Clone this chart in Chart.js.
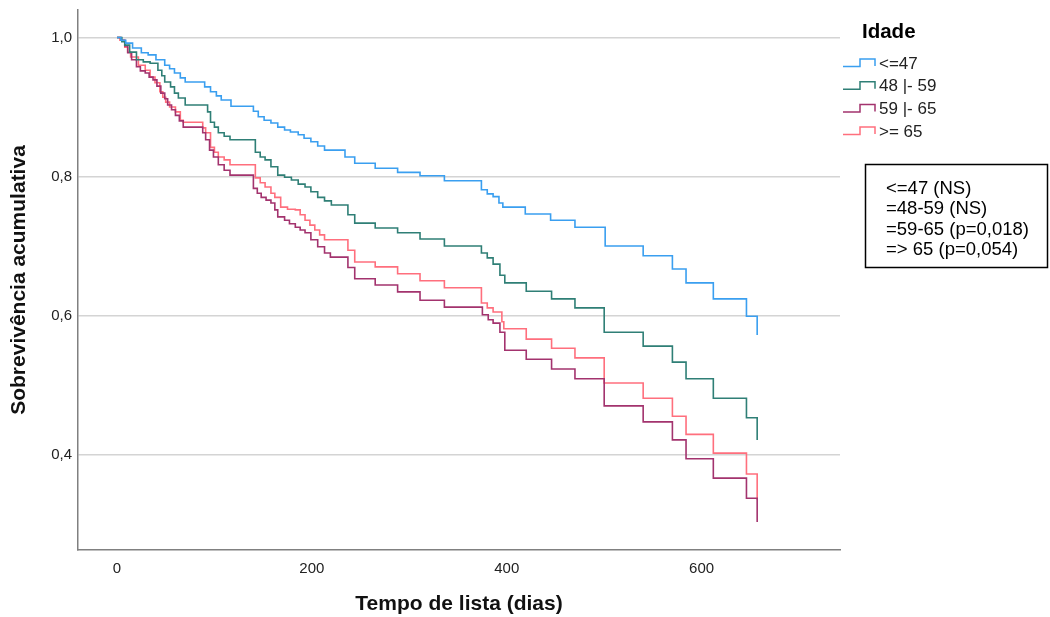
<!DOCTYPE html>
<html>
<head>
<meta charset="utf-8">
<script src="https://cdn.jsdelivr.net/npm/chart.js@4.4.0/dist/chart.umd.min.js"></script>
<style>
  html, body { margin: 0; padding: 0; background: #fff; }
  #wrap { width: 1050px; height: 617px; }
</style>
</head>
<body>
<div id="wrap"><canvas id="km" width="1050" height="617"></canvas></div>
<script>
// age groups (Idade)
var groupNames = ['<=47', '48 |- 59', '59 |- 65', '>= 65'];
var groupColors = ['#3a9ff0', '#2f7f76', '#a3336e', '#ff6f7d'];

// Kaplan-Meier steps: day of drop and survival after the drop
var days47 = [0,4,9,16,25,32,40,49,54,59,65,70,90,96,102,107,117,140,145,151,158,165,172,178,186,192,199,206,213,234,244,265,288,311,336,374,380,386,392,396,419,445,470,501,540,570,584,612,646,657];
var surv47 = [1,0.996,0.992,0.985,0.978,0.975,0.968,0.960,0.955,0.949,0.942,0.936,0.929,0.922,0.916,0.910,0.901,0.894,0.886,0.881,0.877,0.871,0.867,0.864,0.860,0.855,0.850,0.844,0.838,0.828,0.819,0.812,0.806,0.801,0.794,0.781,0.775,0.771,0.762,0.756,0.746,0.737,0.727,0.700,0.686,0.667,0.647,0.624,0.599,0.572];

var days48 = [0,5,8,13,20,27,34,42,46,49,55,59,63,70,93,96,100,104,110,116,142,147,152,158,165,172,179,186,193,199,206,213,220,237,244,265,288,311,336,374,380,386,393,398,420,446,470,500,540,570,584,612,646,657];
var surv48 = [1,0.994,0.989,0.979,0.968,0.965,0.963,0.953,0.945,0.936,0.929,0.920,0.913,0.903,0.893,0.878,0.871,0.863,0.858,0.853,0.835,0.828,0.824,0.814,0.802,0.799,0.795,0.789,0.785,0.778,0.770,0.765,0.759,0.745,0.733,0.726,0.719,0.710,0.700,0.690,0.683,0.674,0.658,0.647,0.635,0.624,0.611,0.576,0.556,0.533,0.509,0.481,0.453,0.421];

var days59 = [0,4,8,11,15,20,24,29,33,37,41,45,49,52,56,60,64,68,88,91,95,99,104,110,116,140,144,148,153,158,162,165,172,177,183,188,193,199,206,213,219,237,244,265,288,311,336,375,381,386,393,398,420,446,470,500,540,570,584,612,646,657];
var surv59 = [1,0.996,0.988,0.978,0.968,0.958,0.952,0.949,0.943,0.939,0.930,0.920,0.912,0.903,0.896,0.888,0.880,0.871,0.863,0.853,0.838,0.828,0.817,0.809,0.802,0.783,0.776,0.770,0.766,0.762,0.752,0.742,0.737,0.732,0.727,0.723,0.719,0.709,0.699,0.690,0.684,0.669,0.653,0.644,0.634,0.622,0.612,0.601,0.594,0.589,0.576,0.550,0.537,0.523,0.509,0.470,0.447,0.421,0.394,0.366,0.337,0.303];

var days65 = [0,3,8,11,14,22,29,34,39,44,47,50,54,60,65,68,88,91,96,100,104,110,116,142,147,152,158,162,168,175,183,188,193,198,203,208,213,237,244,265,288,311,336,374,380,386,395,397,420,446,470,500,540,570,584,612,646,657];
var surv65 = [1,0.996,0.986,0.979,0.972,0.960,0.953,0.943,0.935,0.922,0.914,0.907,0.900,0.893,0.881,0.878,0.870,0.863,0.842,0.835,0.828,0.824,0.817,0.798,0.791,0.785,0.776,0.770,0.756,0.753,0.752,0.745,0.737,0.730,0.723,0.716,0.709,0.694,0.677,0.670,0.660,0.650,0.640,0.618,0.611,0.605,0.591,0.581,0.566,0.553,0.539,0.503,0.481,0.455,0.429,0.402,0.372,0.335];

var xTicks = [0, 200, 400, 600];
var yTicks = [0.4, 0.6, 0.8, 1.0];
var statNotes = ['<=47 (NS)', '=48-59 (NS)', '=59-65 (p=0,018)', '=> 65 (p=0,054)'];

var allDays = [days47, days48, days59, days65];
var allSurv = [surv47, surv48, surv59, surv65];

function toPoints(days, surv) {
    return days.map(function (d, i) { return { x: d, y: surv[i] }; });
}

var datasets = groupNames.map(function (name, i) {
    return {
        label: name,
        data: toPoints(allDays[i], allSurv[i]),
        borderColor: groupColors[i],
        borderWidth: 1.6,
        pointRadius: 0,
        stepped: 'before',
        fill: false
    };
});

var font = '"Liberation Sans", Arial, sans-serif';

var kmLegend = {
    id: 'kmLegend',
    afterDraw: function (chart) {
        var ctx = chart.ctx;
        ctx.save();
        ctx.textBaseline = 'middle';
        ctx.fillStyle = '#000';
        ctx.font = 'bold 20.5px ' + font;
        ctx.fillText('Idade', 862, 32);
        ctx.font = '17px ' + font;
        groupNames.forEach(function (name, i) {
            var y = 64 + i * 22.7;
            ctx.strokeStyle = groupColors[i];
            ctx.lineWidth = 1.5;
            ctx.beginPath();
            ctx.moveTo(843, y + 2.5);
            ctx.lineTo(860, y + 2.5);
            ctx.lineTo(860, y - 5);
            ctx.lineTo(875, y - 5);
            ctx.lineTo(875, y + 2);
            ctx.stroke();
            ctx.fillStyle = '#222';
            ctx.fillText(name, 879, y);
        });
        // note box with the tests
        ctx.strokeStyle = '#000';
        ctx.lineWidth = 1.5;
        ctx.strokeRect(865.5, 164.5, 182, 103);
        ctx.fillStyle = '#000';
        ctx.font = '18.5px ' + font;
        statNotes.forEach(function (t, i) {
            ctx.fillText(t, 886, 189 + i * 20.4);
        });
        ctx.restore();
    }
};

var ctx = document.getElementById('km').getContext('2d');
var kmChart = new Chart(ctx, {
    type: 'line',
    data: { datasets: datasets },
    plugins: [kmLegend],
    options: {
        responsive: false,
        animation: false,
        devicePixelRatio: 1,
        layout: { padding: { top: 10, right: 210, left: 0, bottom: 0 } },
        plugins: { legend: { display: false }, tooltip: { enabled: false } },
        scales: {
            x: {
                type: 'linear',
                min: -40,
                max: 742,
                afterBuildTicks: function (s) { s.ticks = xTicks.map(function (v) { return { value: v }; }); },
                afterFit: function (s) { s.height = 67; s.paddingLeft = 0; s.paddingRight = 0; },
                grid: { color: 'rgba(0,0,0,0)', drawTicks: false },
                border: { color: '#808080', width: 1.5 },
                ticks: {
                    padding: 10,
                    color: '#222',
                    font: { family: '"Liberation Sans", Arial', size: 15 },
                    maxRotation: 0
                },
                title: {
                    display: true,
                    text: 'Tempo de lista (dias)',
                    color: '#111',
                    font: { family: '"Liberation Sans", Arial', size: 21, weight: 'bold' },
                    padding: { top: 0, bottom: 0 }
                }
            },
            y: {
                min: 0.2626,
                max: 1.0396,
                afterBuildTicks: function (s) { s.ticks = yTicks.map(function (v) { return { value: v }; }); },
                afterFit: function (s) { s.width = 78; s.paddingTop = 0; s.paddingBottom = 0; },
                grid: { color: '#d4d4d4', lineWidth: 1.5, drawTicks: false },
                border: { color: '#808080', width: 1.5 },
                ticks: {
                    padding: 6,
                    color: '#222',
                    font: { family: '"Liberation Sans", Arial', size: 15 },
                    callback: function (v) { return v.toFixed(1).replace('.', ','); }
                },
                title: {
                    display: true,
                    text: 'Sobrevivência acumulativa',
                    color: '#111',
                    font: { family: '"Liberation Sans", Arial', size: 21, weight: 'bold' },
                    padding: { top: 7, bottom: 0 }
                }
            }
        }
    }
});
</script>
</body>
</html>
